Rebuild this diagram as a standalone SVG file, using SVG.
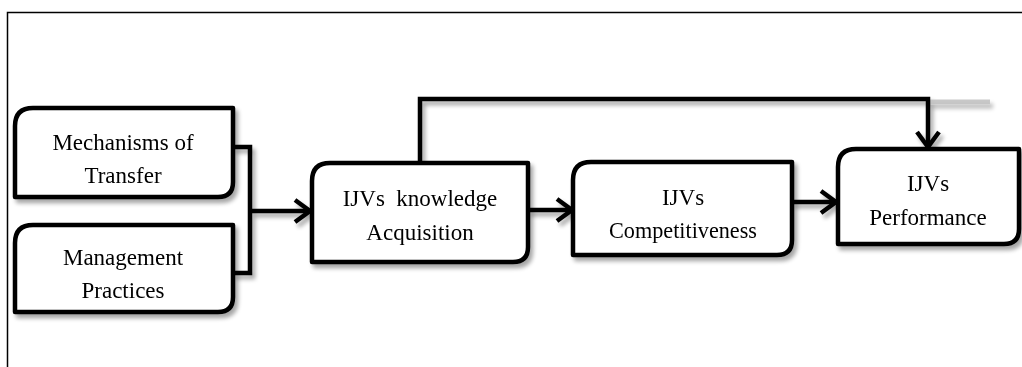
<svg xmlns="http://www.w3.org/2000/svg" width="1022" height="367" viewBox="0 0 1022 367">
<defs>
<style>
.box{fill:#fff;stroke:#000;stroke-width:4.5;stroke-linejoin:round}
.con{fill:none;stroke:#000;stroke-width:4.5;stroke-linejoin:miter}
.t{font-family:"Liberation Serif","Times New Roman",serif;font-size:23px;fill:#000;text-anchor:middle}
</style>
<filter id="sh" x="-10%" y="-10%" width="125%" height="130%">
<feGaussianBlur in="SourceAlpha" stdDeviation="2"/>
<feOffset dx="3" dy="4" result="b"/>
<feComponentTransfer><feFuncA type="linear" slope="0.35"/></feComponentTransfer>
<feMerge><feMergeNode/><feMergeNode in="SourceGraphic"/></feMerge>
</filter>
<marker id="arr" markerUnits="userSpaceOnUse" viewBox="-18 -14 22 28" refX="0" refY="0" markerWidth="22" markerHeight="28" orient="auto">
<path d="M-15,-11 L0,0 L-15,11" fill="none" stroke="#000" stroke-width="4.5"/>
</marker>
</defs>
<rect width="1022" height="367" fill="#fff"/>
<path d="M7.5,367 V12.5 H1022" fill="none" stroke="#000" stroke-width="1.5"/>
<g id="connectors" filter="url(#sh)">
<path class="con" d="M233,147 H250 V273 H233"/>
<path class="con" d="M250,211 H310" marker-end="url(#arr)"/>
<path class="con" d="M528,210 H572" marker-end="url(#arr)"/>
<path class="con" d="M792,202 H836" marker-end="url(#arr)"/>
<path d="M928,102 H990" stroke="#bbb" stroke-width="5" fill="none" opacity="0.8"/>
<path class="con" d="M420,163 V99 H928 V147" marker-end="url(#arr)"/>
</g>
<g id="mechanisms" filter="url(#sh)">
<path class="box" d="M33,108 H233 V182 Q233,197 218,197 H15 V126 Q15,108 33,108 Z"/>
<text class="t" x="123" y="150">Mechanisms of</text>
<text class="t" x="123" y="183">Transfer</text>
</g>
<g id="management" filter="url(#sh)">
<path class="box" d="M33,225 H233 V297 Q233,312 218,312 H15 V243 Q15,225 33,225 Z"/>
<text class="t" x="123" y="265">Management</text>
<text class="t" x="123" y="298">Practices</text>
</g>
<g id="acquisition" filter="url(#sh)">
<path class="box" d="M330,163 H528 V247 Q528,262 513,262 H312 V181 Q312,163 330,163 Z"/>
<text class="t" x="420" y="206">IJVs&#160; knowledge</text>
<text class="t" x="420" y="240">Acquisition</text>
</g>
<g id="competitiveness" filter="url(#sh)">
<path class="box" d="M591,162 H792 V240 Q792,255 777,255 H573 V180 Q573,162 591,162 Z"/>
<text class="t" x="683" y="205">IJVs</text>
<text class="t" x="683" y="238" textLength="148" lengthAdjust="spacingAndGlyphs">Competitiveness</text>
</g>
<g id="performance" filter="url(#sh)">
<path class="box" d="M856,149 H1019 V229 Q1019,244 1004,244 H838 V167 Q838,149 856,149 Z"/>
<text class="t" x="928" y="191">IJVs</text>
<text class="t" x="928" y="225">Performance</text>
</g>
</svg>
